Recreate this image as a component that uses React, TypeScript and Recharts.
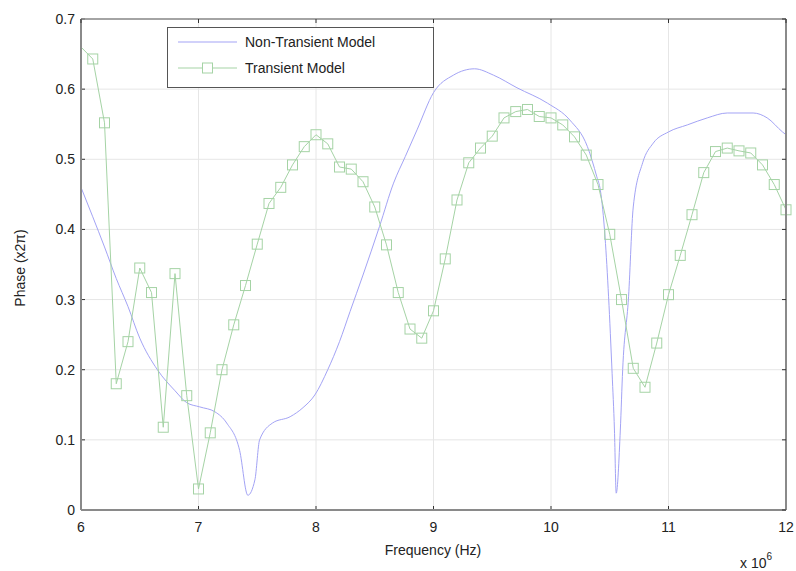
import React from 'react';
import { LineChart, Line, XAxis, YAxis, CartesianGrid } from 'recharts';

// frequency in units of 1e6 Hz
const freqTransient = [
  6.0, 6.1, 6.2, 6.3, 6.4, 6.5, 6.6, 6.7, 6.8, 6.9,
  7.0, 7.1, 7.2, 7.3, 7.4, 7.5, 7.6, 7.7, 7.8, 7.9,
  8.0, 8.1, 8.2, 8.3, 8.4, 8.5, 8.6, 8.7, 8.8, 8.9,
  9.0, 9.1, 9.2, 9.3, 9.4, 9.5, 9.6, 9.7, 9.8, 9.9,
  10.0, 10.1, 10.2, 10.3, 10.4, 10.5, 10.6, 10.7, 10.8, 10.9,
  11.0, 11.1, 11.2, 11.3, 11.4, 11.5, 11.6, 11.7, 11.8, 11.9,
  12.0,
];
const phaseTransient = [
  0.66, 0.643, 0.552, 0.18, 0.24, 0.345, 0.31, 0.118, 0.337, 0.163,
  0.03, 0.11, 0.2, 0.264, 0.32, 0.379, 0.437, 0.46, 0.492, 0.518,
  0.535, 0.522, 0.489, 0.486, 0.468, 0.432, 0.378, 0.31, 0.258, 0.245,
  0.284, 0.358, 0.442, 0.495, 0.516, 0.533, 0.559, 0.568, 0.571, 0.561,
  0.559, 0.549, 0.532, 0.506, 0.464, 0.393, 0.3, 0.202, 0.175, 0.238,
  0.307, 0.363, 0.421, 0.481, 0.511, 0.516, 0.512, 0.509, 0.492, 0.464,
  0.428,
];

const freqSteady = [
  6.0, 6.1, 6.2, 6.3, 6.4, 6.5, 6.65, 6.8, 6.9, 7.01,
  7.14, 7.24, 7.35, 7.42, 7.48, 7.52, 7.63, 7.78, 7.89, 7.99,
  8.1, 8.2, 8.29, 8.4, 8.54, 8.66, 8.76, 8.86, 9.0, 9.17,
  9.35, 9.51, 9.71, 9.97, 10.16, 10.31, 10.39, 10.42, 10.46, 10.49,
  10.52, 10.54, 10.555, 10.59, 10.61, 10.66, 10.7, 10.78, 10.87, 11.0,
  11.16, 11.33, 11.5, 11.72, 11.84, 11.97, 12.0,
];
const phaseSteady = [
  0.46, 0.418, 0.375, 0.33, 0.29, 0.245, 0.2, 0.17, 0.153, 0.147,
  0.14, 0.124, 0.085, 0.021, 0.043, 0.1, 0.124, 0.133, 0.146, 0.164,
  0.2, 0.24, 0.283, 0.335, 0.404, 0.466, 0.504, 0.542, 0.595, 0.62,
  0.629, 0.62, 0.602, 0.58, 0.556, 0.518, 0.475, 0.456, 0.389, 0.304,
  0.195, 0.114, 0.024, 0.114, 0.2, 0.304, 0.432, 0.495, 0.523, 0.539,
  0.549, 0.559, 0.566, 0.566, 0.559, 0.539, 0.535,
];

const xTicks = [6, 7, 8, 9, 10, 11, 12];
const yTicks = [0, 0.1, 0.2, 0.3, 0.4, 0.5, 0.6, 0.7];
const seriesNames = ['Non-Transient Model', 'Transient Model'];

const transientData = freqTransient.map((f, i) => ({ f, phase: phaseTransient[i] }));
const steadyData = freqSteady.map((f, i) => ({ f, phase: phaseSteady[i] }));

const W = 796;
const H = 571;
const MARGIN = { top: 19, right: 10, bottom: 31, left: 0 };
const Y_AXIS_W = 81;
const X_AXIS_H = 30;
// plot box edges
const BOX_L = MARGIN.left + Y_AXIS_W;
const BOX_R = W - MARGIN.right;
const BOX_T = MARGIN.top;
const BOX_B = H - MARGIN.bottom - X_AXIS_H;

const BLUE = '#a3a3f5';
const GREEN = '#a5d3a5';
const FRAME = '#8a8a8a';
const FONT = 'Liberation Sans, Arial, Helvetica, sans-serif';
const TICK_LEN = 4;

const BottomTick = (props: any) => {
  const { x, y, payload } = props;
  const axisY = y - 17;
  return (
    <g>
      <line x1={x} y1={axisY} x2={x} y2={axisY - TICK_LEN} stroke="#333" strokeWidth={1} />
      <text x={x} y={y} textAnchor="middle" dominantBaseline="central" fontSize={14} fill="#222" fontFamily={FONT}>
        {payload.value}
      </text>
    </g>
  );
};

const LeftTick = (props: any) => {
  const { x, y, payload } = props;
  const axisX = x + 6;
  return (
    <g>
      <line x1={axisX} y1={y} x2={axisX + TICK_LEN} y2={y} stroke="#333" strokeWidth={1} />
      <text x={x} y={y} textAnchor="end" dominantBaseline="central" fontSize={14} fill="#222" fontFamily={FONT}>
        {payload.value}
      </text>
    </g>
  );
};

const SquareDot = (props: any) => {
  const { cx, cy, index } = props;
  if (index === 0 || cx == null || cy == null) return <g key={`sq-${index}`} />;
  return (
    <rect key={`sq-${index}`} x={cx - 5} y={cy - 5} width={10} height={10} fill="none" stroke={GREEN} strokeWidth={1} />
  );
};

// axes box with inward ticks on the top and right edges
const BoxOverlay = () => {
  const px = (f: number) => BOX_L + ((f - 6) / 6) * (BOX_R - BOX_L);
  const py = (v: number) => BOX_B - (v / 0.7) * (BOX_B - BOX_T);
  return (
    <svg width={W} height={H} style={{ position: 'absolute', left: 0, top: 0, pointerEvents: 'none' }}>
      <line x1={BOX_L} y1={BOX_T} x2={BOX_R} y2={BOX_T} stroke={FRAME} strokeWidth={1.5} />
      <line x1={BOX_R} y1={BOX_T} x2={BOX_R} y2={BOX_B} stroke={FRAME} strokeWidth={2} />
      <line x1={BOX_L} y1={BOX_T} x2={BOX_L} y2={BOX_B} stroke={FRAME} strokeWidth={2} />
      <line x1={BOX_L} y1={BOX_B} x2={BOX_R} y2={BOX_B} stroke={FRAME} strokeWidth={2} />
      {xTicks.map((t) => (
        <line key={`tt-${t}`} x1={px(t)} y1={BOX_T} x2={px(t)} y2={BOX_T + TICK_LEN} stroke="#333" strokeWidth={1} />
      ))}
      {yTicks.map((t) => (
        <line key={`rt-${t}`} x1={BOX_R} y1={py(t)} x2={BOX_R - TICK_LEN} y2={py(t)} stroke="#333" strokeWidth={1} />
      ))}
    </svg>
  );
};

// legend box drawn in the upper left of the plot area
const LegendBox = ({ x, y }: { x: number; y: number }) => (
  <g transform={`translate(${x} ${y})`}>
    <rect x={0.5} y={0.5} width={266} height={60} fill="#fff" stroke="#555" strokeWidth={1} />
    <line x1={11} y1={15} x2={70} y2={15} stroke={BLUE} strokeWidth={1} />
    <text x={78} y={15} dominantBaseline="central" fontSize={14} fill="#222" fontFamily={FONT}>
      {seriesNames[0]}
    </text>
    <line x1={11} y1={41} x2={70} y2={41} stroke={GREEN} strokeWidth={1} />
    <rect x={35.5} y={36} width={10} height={10} fill="#fff" stroke={GREEN} strokeWidth={1} />
    <text x={78} y={41} dominantBaseline="central" fontSize={14} fill="#222" fontFamily={FONT}>
      {seriesNames[1]}
    </text>
  </g>
);

const App = () => {
  return (
    <div style={{ position: 'absolute', left: 0, top: 0, width: W, height: H, background: '#fff' }}>
      <LineChart width={W} height={H} margin={MARGIN}>
        <CartesianGrid stroke="#e6e6e6" strokeWidth={1} />
        <XAxis
          dataKey="f"
          type="number"
          domain={[6, 12]}
          ticks={xTicks}
          height={X_AXIS_H}
          tickSize={0}
          tickMargin={17}
          tickLine={false}
          tick={<BottomTick />}
          axisLine={{ stroke: FRAME, strokeWidth: 2 }}
        />
        <YAxis
          type="number"
          domain={[0, 0.7]}
          ticks={yTicks}
          width={Y_AXIS_W}
          tickSize={0}
          tickMargin={6}
          tickLine={false}
          tick={<LeftTick />}
          axisLine={{ stroke: FRAME, strokeWidth: 2 }}
        />
        <Line
          data={steadyData}
          dataKey="phase"
          type="monotone"
          stroke={BLUE}
          strokeWidth={1}
          dot={false}
          activeDot={false}
          isAnimationActive={false}
        />
        <Line
          data={transientData}
          dataKey="phase"
          type="linear"
          stroke={GREEN}
          strokeWidth={1}
          dot={<SquareDot />}
          activeDot={false}
          isAnimationActive={false}
        />
        <LegendBox x={167} y={27} />
        <text x={433} y={550} textAnchor="middle" dominantBaseline="central" fontSize={14} fill="#222" fontFamily={FONT}>
          Frequency (Hz)
        </text>
        <text
          x={20}
          y={268}
          textAnchor="middle"
          dominantBaseline="central"
          fontSize={14}
          fill="#222"
          fontFamily={FONT}
          transform="rotate(-90 20 268)"
        >
          Phase (x2π)
        </text>
        <text x={740} y={563} dominantBaseline="central" fontSize={14} fill="#222" fontFamily={FONT}>
          x 10
          <tspan dy={-7} fontSize={10}>6</tspan>
        </text>
      </LineChart>
      <BoxOverlay />
    </div>
  );
};

export default App;
